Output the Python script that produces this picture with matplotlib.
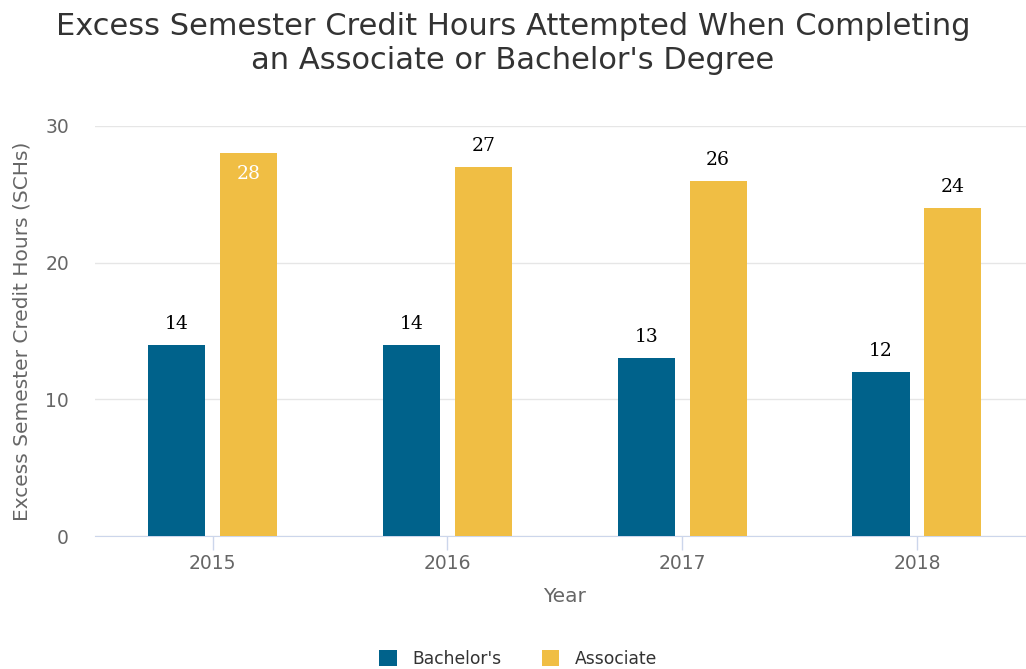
import matplotlib.pyplot as plt
import numpy as np

years = ["2015", "2016", "2017", "2018"]
bachelors = [14, 14, 13, 12]
associate = [28, 27, 26, 24]

BLUE = "#00628b"
GOLD = "#f0be44"


def main() -> None:
    fig = plt.figure(figsize=(10.26, 6.69), dpi=100)
    # plot area runs a little past the right edge, as in the original
    ax = fig.add_axes([0.0929, 0.1988, 0.9152, 0.6129])

    x = np.arange(len(years))
    w = 0.243
    off = 0.153
    b1 = ax.bar(x - off, bachelors, w, color=BLUE, label="Bachelor's", zorder=3)
    b2 = ax.bar(x + off, associate, w, color=GOLD, label="Associate", zorder=3)

    ax.set_xlim(-0.5, 3.5)
    ax.set_ylim(0, 30)
    ax.set_yticks([0, 10, 20, 30])
    ax.set_xticks(x)
    ax.set_xticklabels(years)
    ax.grid(axis="y", color="#e6e6e6", linewidth=1, zorder=0)
    for s in ["top", "right", "left"]:
        ax.spines[s].set_visible(False)
    ax.spines["bottom"].set_color("#ccd6eb")
    ax.tick_params(axis="x", colors="#ccd6eb", length=10, width=1, labelcolor="#666666",
                   labelsize=13.5, pad=3)
    ax.tick_params(axis="y", length=0, labelcolor="#666666", labelsize=13.5, pad=19)

    ax.set_xlabel("Year", color="#666666", fontsize=14.5, labelpad=10)
    ax.set_ylabel("Excess Semester Credit Hours (SCHs)", color="#666666", fontsize=14.5,
                  labelpad=10)

    # data labels, the tallest one sits inside the bar like the original
    for bars, vals in [(b1, bachelors), (b2, associate)]:
        for rect, v in zip(bars, vals):
            cx = rect.get_x() + rect.get_width() / 2
            inside = v >= 28
            ax.annotate(str(v), (cx, v), xytext=(0, -15 if inside else 15),
                        textcoords="offset points", ha="center", va="center",
                        fontsize=13.5, family="DejaVu Serif",
                        color="white" if inside else "black")

    fig.text(0.5, 0.935, "Excess Semester Credit Hours Attempted When Completing\n"
             "an Associate or Bachelor's Degree",
             ha="center", va="center", fontsize=22, color="#333333", linespacing=1.2)

    fig.legend(handles=[b1, b2], loc="center", ncol=2, frameon=False,
               bbox_to_anchor=(0.505, 0.015), fontsize=12.3, handlelength=1.0,
               handleheight=1.0, handletextpad=0.9, columnspacing=2.4,
               labelcolor="#333333")

    fig.savefig("out.png", dpi=100)


if __name__ == "__main__":
    main()
